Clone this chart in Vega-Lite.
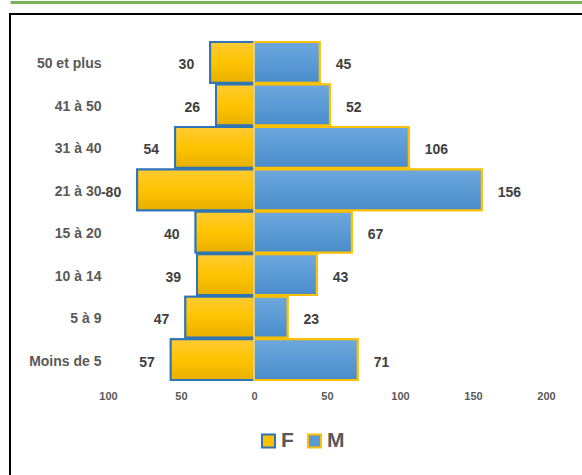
{
  "$schema": "https://vega.github.io/schema/vega-lite/v6.json",
  "width": 577,
  "height": 466,
  "autosize": {"type": "none"},
  "padding": {"left": 10, "top": 14, "right": -5, "bottom": -5},
  "background": "white",
  "config": {
    "view": {"stroke": "#000000", "strokeWidth": 2},
    "font": "Liberation Sans"
  },
  "data": {
    "values": [
      {"age": "50 et plus", "sex": "F", "v": -30, "label": "30"},
      {"age": "50 et plus", "sex": "M", "v": 45, "label": "45"},
      {"age": "41 à 50", "sex": "F", "v": -26, "label": "26"},
      {"age": "41 à 50", "sex": "M", "v": 52, "label": "52"},
      {"age": "31 à 40", "sex": "F", "v": -54, "label": "54"},
      {"age": "31 à 40", "sex": "M", "v": 106, "label": "106"},
      {"age": "21 à 30", "sex": "F", "v": -80, "label": "-80"},
      {"age": "21 à 30", "sex": "M", "v": 156, "label": "156"},
      {"age": "15 à 20", "sex": "F", "v": -40, "label": "40"},
      {"age": "15 à 20", "sex": "M", "v": 67, "label": "67"},
      {"age": "10 à 14", "sex": "F", "v": -39, "label": "39"},
      {"age": "10 à 14", "sex": "M", "v": 43, "label": "43"},
      {"age": "5 à 9", "sex": "F", "v": -47, "label": "47"},
      {"age": "5 à 9", "sex": "M", "v": 23, "label": "23"},
      {"age": "Moins de 5", "sex": "F", "v": -57, "label": "57"},
      {"age": "Moins de 5", "sex": "M", "v": 71, "label": "71"}
    ]
  },
  "encoding": {
    "y": {
      "field": "age",
      "type": "nominal",
      "sort": null,
      "scale": {"range": [28, 366], "paddingInner": 0.04, "paddingOuter": 0},
      "axis": {
        "title": null,
        "orient": "left",
        "offset": -91,
        "domain": false,
        "ticks": false,
        "labelPadding": 0,
        "labelOffset": 2,
        "labelFont": "Liberation Sans",
        "labelFontSize": 14,
        "labelFontWeight": "bold",
        "labelColor": "#595959"
      }
    }
  },
  "layer": [
    {
      "mark": {"type": "bar", "strokeWidth": 2},
      "encoding": {
        "x": {
          "field": "v",
          "type": "quantitative",
          "scale": {"domain": [-167.1, 228.1], "nice": false, "zero": false},
          "axis": {
            "title": null,
            "orient": "bottom",
            "offset": -92,
            "values": [-100, -50, 0, 50, 100, 150, 200],
            "labelExpr": "abs(datum.value)",
            "grid": false,
            "domain": false,
            "ticks": false,
            "labelPadding": 2,
            "labelFont": "Liberation Sans",
            "labelFontSize": 11,
            "labelFontWeight": "bold",
            "labelColor": "#595959"
          }
        },
        "x2": {"datum": 0},
        "fill": {
          "field": "sex",
          "type": "nominal",
          "scale": {"domain": ["F", "M"], "range": ["#FFC000", "#5B9BD5"]},
          "legend": {
            "title": null,
            "orient": "none",
            "legendX": 248,
            "legendY": 416,
            "direction": "horizontal",
            "symbolType": "square",
            "symbolSize": 170,
            "symbolStrokeWidth": 2,
            "labelFont": "Liberation Sans",
            "labelFontSize": 21,
            "labelFontWeight": "bold",
            "labelColor": "#595959",
            "labelOffset": 2,
            "columnPadding": 9
          }
        },
        "stroke": {
          "field": "sex",
          "type": "nominal",
          "scale": {"domain": ["F", "M"], "range": ["#2E75B6", "#FFC000"]},
          "legend": {
            "title": null,
            "orient": "none",
            "legendX": 248,
            "legendY": 416,
            "direction": "horizontal",
            "symbolType": "square",
            "symbolSize": 170,
            "symbolStrokeWidth": 2,
            "labelFont": "Liberation Sans",
            "labelFontSize": 21,
            "labelFontWeight": "bold",
            "labelColor": "#595959",
            "labelOffset": 2,
            "columnPadding": 9
          }
        }
      }
    },
    {
      "transform": [{"filter": "datum.sex === 'F'"}],
      "mark": {
        "type": "bar",
        "strokeWidth": 2,
        "stroke": "#2E75B6",
        "fill": {
          "gradient": "linear", "x1": 0, "y1": 0, "x2": 0, "y2": 1,
          "stops": [{"offset": 0, "color": "#FFCB33"}, {"offset": 0.5, "color": "#FFC400"}, {"offset": 1, "color": "#E8B000"}]
        }
      },
      "encoding": {
        "x": {"field": "v", "type": "quantitative", "axis": null},
        "x2": {"datum": 0}
      }
    },
    {
      "transform": [{"filter": "datum.sex === 'M'"}],
      "mark": {
        "type": "bar",
        "strokeWidth": 2,
        "stroke": "#FFC000",
        "fill": {
          "gradient": "linear", "x1": 0, "y1": 0, "x2": 0, "y2": 1,
          "stops": [{"offset": 0, "color": "#6EA7DD"}, {"offset": 0.5, "color": "#5B9BD5"}, {"offset": 1, "color": "#4A8BCB"}]
        }
      },
      "encoding": {
        "x": {"field": "v", "type": "quantitative", "axis": null},
        "x2": {"datum": 0}
      }
    },
    {
      "transform": [{"filter": "datum.sex === 'M'"}],
      "mark": {"type": "bar", "stroke": "#D0D0D0", "strokeWidth": 1.5, "fill": null},
      "encoding": {
        "x": {
          "datum": 0,
          "type": "quantitative",
          "axis": {
            "orient": "top",
            "offset": 12,
            "labels": false,
            "ticks": false,
            "grid": false,
            "title": null,
            "domain": true,
            "domainColor": "#77B255",
            "domainWidth": 3
          }
        },
        "x2": {"datum": 0}
      }
    },
    {
      "transform": [{"filter": "datum.sex === 'F'"}],
      "mark": {"type": "text", "align": "right", "baseline": "middle", "dx": -16, "dy": 3, "font": "Liberation Sans", "fontSize": 14, "fontWeight": "bold", "color": "#404040"},
      "encoding": {
        "x": {"field": "v", "type": "quantitative", "axis": null},
        "text": {"field": "label"}
      }
    },
    {
      "transform": [{"filter": "datum.sex === 'M'"}],
      "mark": {"type": "text", "align": "left", "baseline": "middle", "dx": 16, "dy": 3, "font": "Liberation Sans", "fontSize": 14, "fontWeight": "bold", "color": "#404040"},
      "encoding": {
        "x": {"field": "v", "type": "quantitative", "axis": null},
        "text": {"field": "label"}
      }
    }
  ],
  "resolve": {"axis": {"x": "independent"}}
}
